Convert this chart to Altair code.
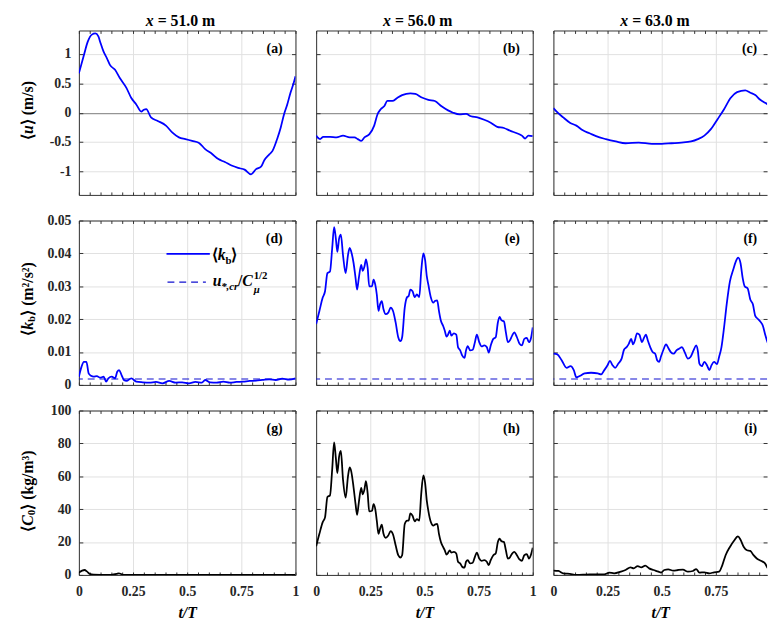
import altair as alt
import pandas as pd

# ---------------- data ----------------
t_a = [0, 0.023, 0.041, 0.06, 0.076, 0.09, 0.098, 0.114, 0.129, 0.144, 0.167, 0.189, 0.22, 0.242,
       0.265, 0.288, 0.3, 0.311, 0.333, 0.364, 0.402, 0.432, 0.462, 0.492, 0.523, 0.553, 0.583,
       0.614, 0.644, 0.674, 0.705, 0.735, 0.765, 0.795, 0.818, 0.841, 0.856, 0.879, 0.894, 0.917,
       0.932, 0.947, 0.962, 0.977, 0.992, 1.0]
u_a = [0.67, 0.98, 1.21, 1.33, 1.35, 1.30, 1.21, 1.04, 0.93, 0.81, 0.73, 0.59, 0.42, 0.25,
       0.14, 0.02, 0.05, 0.06, -0.08, -0.14, -0.22, -0.34, -0.42, -0.45, -0.48, -0.51, -0.62,
       -0.70, -0.79, -0.84, -0.90, -0.94, -0.97, -1.05, -0.96, -0.92, -0.81, -0.71, -0.65, -0.43,
       -0.25, -0.03, 0.14, 0.34, 0.51, 0.62]

t_b = [0, 0.018, 0.033, 0.064, 0.094, 0.124, 0.155, 0.177, 0.192, 0.208, 0.223, 0.245, 0.268,
       0.283, 0.298, 0.314, 0.329, 0.352, 0.374, 0.397, 0.435, 0.458, 0.488, 0.518, 0.548, 0.579,
       0.609, 0.632, 0.662, 0.692, 0.715, 0.745, 0.776, 0.806, 0.836, 0.867, 0.897, 0.927, 0.95,
       0.965, 0.98, 1.0]
u_b = [-0.39, -0.45, -0.41, -0.41, -0.42, -0.39, -0.42, -0.42, -0.45, -0.48, -0.42, -0.37, -0.22,
       -0.03, 0.06, 0.11, 0.20, 0.20, 0.25, 0.30, 0.33, 0.32, 0.26, 0.22, 0.20, 0.11,
       0.04, 0.0, -0.03, -0.02, -0.06, -0.08, -0.12, -0.17, -0.24, -0.26, -0.31, -0.35, -0.39,
       -0.44, -0.39, -0.40]

t_c = [0, 0.015, 0.045, 0.076, 0.106, 0.136, 0.167, 0.197, 0.242, 0.288, 0.333, 0.394, 0.455,
       0.5, 0.545, 0.591, 0.636, 0.667, 0.697, 0.727, 0.758, 0.788, 0.818, 0.848, 0.886, 0.909,
       0.932, 0.955, 0.977, 0.991, 1.0]
u_c = [0.08, 0.02, -0.08, -0.17, -0.22, -0.30, -0.35, -0.40, -0.45, -0.49, -0.52, -0.51, -0.53,
       -0.53, -0.52, -0.51, -0.49, -0.45, -0.39, -0.28, -0.11, 0.06, 0.25, 0.35, 0.38, 0.34,
       0.30, 0.22, 0.17, 0.14, 0.12]

t_d = [0, 0.012, 0.023, 0.035, 0.045, 0.056, 0.068, 0.083, 0.098, 0.114, 0.126, 0.136, 0.152,
       0.167, 0.177, 0.186, 0.197, 0.208, 0.22, 0.242, 0.265, 0.295, 0.326, 0.356, 0.386, 0.417,
       0.447, 0.477, 0.508, 0.538, 0.568, 0.583, 0.606, 0.636, 0.667, 0.697, 0.727, 0.758, 0.788,
       0.818, 0.848, 0.879, 0.909, 0.939, 0.97, 1.0]
k_d = [0.0025, 0.0055, 0.007, 0.007, 0.0035, 0.0028, 0.0025, 0.0027, 0.0022, 0.0025, 0.001, 0.002,
       0.0025, 0.002, 0.004, 0.0045, 0.003, 0.0015, 0.0012, 0.002, 0.001, 0.0008, 0.0007, 0.0009,
       0.0005, 0.0012, 0.0007, 0.0008, 0.0005, 0.0009, 0.0007, 0.0015, 0.0008, 0.0007, 0.001,
       0.0007, 0.0009, 0.001, 0.0012, 0.0013, 0.0015, 0.0017, 0.0015, 0.0019, 0.0016, 0.002]

t_e = [0, 0.015, 0.03, 0.041, 0.052, 0.064, 0.074, 0.083, 0.091, 0.098, 0.106, 0.114, 0.124, 0.136,
       0.147, 0.155, 0.162, 0.173, 0.182, 0.189, 0.197, 0.208, 0.215, 0.223, 0.23, 0.238, 0.245,
       0.258, 0.265, 0.273, 0.28, 0.288, 0.295, 0.303, 0.311, 0.321, 0.333, 0.344, 0.355, 0.367,
       0.379, 0.389, 0.397, 0.409, 0.42, 0.427, 0.435, 0.445, 0.455, 0.465, 0.476, 0.485, 0.495,
       0.503, 0.511, 0.518, 0.53, 0.541, 0.548, 0.559, 0.567, 0.576, 0.586, 0.594, 0.602, 0.609,
       0.617, 0.624, 0.636, 0.647, 0.655, 0.665, 0.674, 0.685, 0.692, 0.7, 0.711, 0.723, 0.733,
       0.742, 0.753, 0.764, 0.776, 0.788, 0.797, 0.806, 0.818, 0.829, 0.839, 0.847, 0.855, 0.867,
       0.876, 0.885, 0.894, 0.905, 0.915, 0.927, 0.939, 0.95, 0.961, 0.973, 0.982, 0.991, 1.0]
k_e = [0.0185, 0.0225, 0.0265, 0.0285, 0.034, 0.0345, 0.0415, 0.048, 0.0445, 0.0405, 0.0445,
       0.0457, 0.0395, 0.034, 0.0395, 0.0417, 0.0405, 0.037, 0.0325, 0.029, 0.0325, 0.0365, 0.0347,
       0.036, 0.0382, 0.0355, 0.030, 0.030, 0.032, 0.0305, 0.0275, 0.0225, 0.0245, 0.0255, 0.023,
       0.0215, 0.022, 0.0235, 0.0225, 0.019, 0.0145, 0.0133, 0.0145, 0.0235, 0.0267, 0.027, 0.029,
       0.0285, 0.0267, 0.0275, 0.0267, 0.0345, 0.040, 0.038, 0.033, 0.0305, 0.0265, 0.025, 0.0255,
       0.0257, 0.0225, 0.0195, 0.018, 0.0165, 0.0147, 0.0153, 0.0165, 0.015, 0.0157, 0.0153, 0.0115,
       0.0105, 0.009, 0.0082, 0.0105, 0.0118, 0.0105, 0.0107, 0.013, 0.0153, 0.013, 0.0117, 0.012,
       0.0115, 0.0098, 0.012, 0.014, 0.0145, 0.019, 0.0207, 0.0197, 0.0193, 0.016, 0.013, 0.0135,
       0.015, 0.016, 0.0145, 0.0125, 0.012, 0.014, 0.0143, 0.013, 0.014, 0.0175]

t_f = [0, 0.018, 0.038, 0.061, 0.079, 0.094, 0.106, 0.121, 0.144, 0.174, 0.205, 0.22, 0.235, 0.25,
       0.261, 0.273, 0.285, 0.3, 0.315, 0.326, 0.338, 0.348, 0.359, 0.368, 0.376, 0.386, 0.397,
       0.409, 0.418, 0.427, 0.436, 0.447, 0.458, 0.47, 0.479, 0.488, 0.497, 0.508, 0.52, 0.53,
       0.542, 0.555, 0.568, 0.58, 0.594, 0.606, 0.621, 0.633, 0.647, 0.659, 0.667, 0.674, 0.685,
       0.697, 0.709, 0.72, 0.73, 0.742, 0.755, 0.765, 0.776, 0.788, 0.8, 0.815, 0.83, 0.842, 0.853,
       0.864, 0.874, 0.883, 0.897, 0.909, 0.921, 0.932, 0.942, 0.955, 0.967, 0.977, 0.991, 1.0]
k_f = [0.0095, 0.0093, 0.0075, 0.0052, 0.0057, 0.0045, 0.0023, 0.0027, 0.0035, 0.0037, 0.0035,
       0.0032, 0.0045, 0.006, 0.0073, 0.006, 0.0052, 0.0065, 0.008, 0.0107, 0.0115, 0.0125, 0.014,
       0.0123, 0.0135, 0.0157, 0.0153, 0.013, 0.0143, 0.0153, 0.0135, 0.0115, 0.010, 0.0095, 0.0075,
       0.007, 0.0087, 0.0107, 0.0123, 0.0113, 0.010, 0.0095, 0.0105, 0.011, 0.0115, 0.010, 0.008,
       0.0085, 0.0105, 0.012, 0.0103, 0.0065, 0.0057, 0.007, 0.006, 0.0045, 0.006, 0.007, 0.0063,
       0.0085, 0.0115, 0.0175, 0.0245, 0.0315, 0.035, 0.0375, 0.0387, 0.037, 0.0325, 0.030, 0.0293,
       0.026, 0.0245, 0.021, 0.0202, 0.0193, 0.018, 0.0155, 0.0125, 0.011]

t_g = [0, 0.015, 0.026, 0.038, 0.05, 0.068, 0.1, 0.15, 0.174, 0.185, 0.197, 0.212, 0.3, 0.5,
       0.7, 0.9, 1.0]
c_g = [1.4, 2.6, 3.0, 2.0, 0.6, 0.2, 0.1, 0.1, 0.6, 1.0, 0.4, 0.05, 0.05, 0.05, 0.05, 0.05, 0.05]

t_h = t_e
c_h = [17.4, 25, 32, 35, 47.4, 48.4, 64, 80.6, 71, 62, 72, 75.4, 58, 47, 60, 65.4, 63, 53, 43,
       36.6, 44, 53, 49, 52, 57, 49.4, 38.6, 39, 43, 40, 33, 25, 28, 30.6, 25, 22.6, 24, 26.6,
       24.6, 18, 12, 10.6, 12, 31, 33, 33, 37.4, 36, 32.6, 34, 33, 49, 60.6, 56, 45, 39, 32, 30,
       30.6, 31, 25, 20, 17, 15, 12.4, 13.4, 15, 13.6, 14, 13, 8, 7, 5, 4.4, 8, 9, 7, 7.4, 11,
       13.6, 10, 8.6, 9, 8, 6, 9, 12, 13, 20, 22, 20.6, 20, 15, 10, 10.6, 13, 14, 12, 9.4, 8.6,
       12, 12.6, 10, 12, 16.6]

t_i = [0, 0.023, 0.045, 0.076, 0.106, 0.152, 0.197, 0.235, 0.258, 0.28, 0.311, 0.333, 0.356,
       0.371, 0.389, 0.406, 0.424, 0.442, 0.462, 0.485, 0.497, 0.512, 0.53, 0.553, 0.576, 0.598,
       0.621, 0.644, 0.659, 0.674, 0.697, 0.72, 0.742, 0.765, 0.78, 0.795, 0.815, 0.833, 0.852,
       0.864, 0.879, 0.894, 0.909, 0.924, 0.939, 0.958, 0.977, 0.991, 1.0]
c_i = [2.6, 2.4, 1.0, 0.6, 0.0, 0.2, 0.4, 0.4, 1.4, 1.0, 2.0, 3.0, 4.6, 4.0, 5.4, 4.6, 5.6, 4.0,
       3.0, 2.0, 1.4, 3.0, 3.4, 2.6, 3.0, 3.2, 2.0, 2.4, 3.6, 1.4, 1.6, 1.0, 1.6, 2.0, 6, 12, 17,
       20.6, 23.4, 21.4, 17, 15, 14.6, 12, 10, 8.6, 7, 4, 3.5]

k_cr = 0.0018
positions = ["51.0", "56.0", "63.0"]
tags = ["(a)", "(b)", "(c)", "(d)", "(e)", "(f)", "(g)", "(h)", "(i)"]
u_ticks = [-1, -0.5, 0, 0.5, 1]
k_ticks = [0, 0.01, 0.02, 0.03, 0.04, 0.05]
c_ticks = [0, 20, 40, 60, 80, 100]
t_ticks = [round(i * 0.05, 2) for i in range(21)]

# ---------------- styling ----------------
FONT = "'Liberation Serif', 'Times New Roman', serif"
INK = "#262626"
BOX = "#333333"
GRID = "#e1e1e1"
BLUE = "#0000ff"
DASH = "#1010d0"
W, H = 220, 167
W3 = 217
XMAX3 = round(W3 / W, 4)
MAJ = "indexof([0, 0.25, 0.5, 0.75, 1], datum.value) >= 0"
YLAB = "datum.value < 0 ? '-' + format(-datum.value, '~g') : format(datum.value, '~g')"


def one():
    return pd.DataFrame({"n": [0]})


def txt(s, x, y, size=16, style="normal", align="left", angle=0, baseline="middle"):
    kw = dict(text=s, font=FONT, fontSize=size, fontWeight="bold", fontStyle=style,
              align=align, baseline=baseline, color="#000000")
    if angle:
        kw["angle"] = angle
    return alt.Chart(one()).mark_text(**kw).encode(x=alt.value(x), y=alt.value(y))


def panel(t, v, ydom, yticks, col, row, color, tag):
    xmax = XMAX3 if col == 2 else 1.0
    w = W3 if col == 2 else W
    xv = [x for x in t_ticks if x <= xmax]
    df = pd.DataFrame({"t": t, "v": v})
    xs = alt.Scale(domain=[0, xmax], nice=False, zero=False)
    ys = alt.Scale(domain=ydom, nice=False, zero=False)

    ax_x = dict(orient="bottom", values=xv, offset=-3, tickSize=3, tickColor=BOX, tickWidth=1,
                domain=False, grid=True, gridColor=GRID, gridWidth=1,
                gridOpacity={"condition": {"test": MAJ, "value": 1}, "value": 0},
                labelFlush=False, labelOverlap=False)
    if row == 2:
        ax_x.update(labels=True, labelExpr=f"{MAJ} ? format(datum.value, '~g') : ''",
                    labelFont=FONT, labelFontSize=14, labelFontWeight="bold", labelColor=INK,
                    labelPadding=10, title="t/T", titleFont=FONT, titleFontSize=16,
                    titleFontStyle="italic", titleFontWeight="bold", titleColor="#000000",
                    titlePadding=6)
    else:
        ax_x.update(labels=False, title="")

    gridcol = ({"condition": {"test": "datum.value === 0", "value": "#7a7a7a"}, "value": GRID}
               if row == 0 else GRID)
    ax_y = dict(orient="left", values=yticks, offset=-4, tickSize=4, tickColor=BOX, tickWidth=1,
                domain=False, grid=True, gridColor=gridcol, gridWidth=1, title="",
                labelOverlap=False)
    if col == 0:
        ax_y.update(labels=True, labelExpr=YLAB, labelFont=FONT, labelFontSize=14,
                    labelFontWeight="bold", labelColor=INK, labelPadding=8)
    else:
        ax_y.update(labels=False)

    main = alt.Chart(df).mark_line(color=color, strokeWidth=1.8, clip=True,
                                   interpolate="monotone").encode(
        x=alt.X("t:Q", scale=xs, axis=alt.Axis(**ax_x)),
        y=alt.Y("v:Q", scale=ys, axis=alt.Axis(**ax_y)))

    ticks2 = alt.Chart(df).mark_line(opacity=0).encode(
        x=alt.X("t:Q", scale=xs, axis=alt.Axis(orient="top", values=xv, offset=-3, tickSize=3,
                                               tickColor=BOX, domain=False, grid=False,
                                               labels=False, title="")),
        y=alt.Y("v:Q", scale=ys, axis=alt.Axis(orient="right", values=yticks, offset=-4,
                                               tickSize=4, tickColor=BOX, domain=False,
                                               grid=False, labels=False, title="")))

    dom = dict(domain=True, domainColor=BOX, domainWidth=1, ticks=False, labels=False,
               grid=False, title="")
    box1 = alt.Chart(df).mark_line(opacity=0).encode(
        x=alt.X("t:Q", scale=xs, axis=alt.Axis(orient="bottom", **dom)),
        y=alt.Y("v:Q", scale=ys, axis=alt.Axis(orient="left", **dom)))
    if col == 2:
        yright = alt.Y("v:Q", scale=ys, axis=None)
    else:
        yright = alt.Y("v:Q", scale=ys, axis=alt.Axis(orient="right", **dom))
    box2 = alt.Chart(df).mark_line(opacity=0).encode(
        x=alt.X("t:Q", scale=xs, axis=alt.Axis(orient="top", **dom)), y=yright)

    layers = [box1, box2, ticks2]
    if row == 1:
        layers.append(alt.Chart(pd.DataFrame({"v": [k_cr]})).mark_rule(
            color=DASH, strokeWidth=1.2, strokeDash=[7, 5]).encode(
            y=alt.Y("v:Q", scale=ys, axis=None)))
    layers.append(main)
    layers.append(txt(tag, 207, 19, size=14, align="right"))

    if row == 0:
        layers.append(txt("x", 76, -4.5, size=16, style="italic", align="right",
                          baseline="alphabetic"))
        layers.append(txt("= " + positions[col] + " m", 80, -4.5, size=16,
                          baseline="alphabetic"))

    if col == 0:
        X0 = -52
        if row == 0:
            A = 105
            layers += [txt("⟨", X0, A, align="right", angle=270),
                       txt("u", X0, A, style="italic", angle=270),
                       txt("⟩ (m/s)", X0, A - 8.9, angle=270)]
        elif row == 1:
            A = 111
            layers += [txt("⟨", X0, A, align="right", angle=270),
                       txt("k", X0, A, style="italic", angle=270),
                       txt("b", X0 + 4, A - 8, size=11, angle=270),
                       txt("⟩ (m²/s²)", X0, A - 14.3, angle=270)]
            # legend
            layers += [alt.Chart(one()).mark_rule(color=BLUE, strokeWidth=1.8).encode(
                           x=alt.value(89), x2=alt.value(133), y=alt.value(34)),
                       alt.Chart(one()).mark_rule(color=DASH, strokeWidth=1.2,
                                                  strokeDash=[7, 5]).encode(
                           x=alt.value(90), x2=alt.value(129), y=alt.value(62.5)),
                       txt("⟨", 141, 40, align="right", baseline="alphabetic"),
                       txt("k", 141, 40, style="italic", baseline="alphabetic"),
                       txt("b", 149, 44, size=11, baseline="alphabetic"),
                       txt("⟩", 155, 40, baseline="alphabetic"),
                       txt("u", 136, 67, style="italic", baseline="alphabetic"),
                       txt("*,cr", 144.5, 71, size=11, style="italic", baseline="alphabetic"),
                       txt("/", 161.5, 67, baseline="alphabetic"),
                       txt("C", 166, 67, style="italic", baseline="alphabetic"),
                       txt("μ", 177.5, 74, size=11, style="italic", baseline="alphabetic"),
                       txt("1/2", 177.5, 59, size=11, baseline="alphabetic")]
        else:
            A = 117
            layers += [txt("⟨", X0, A, align="right", angle=270),
                       txt("C", X0, A, style="italic", angle=270),
                       txt("0", X0 + 4, A - 10.7, size=11, angle=270),
                       txt("⟩ (kg/m³)", X0, A - 16.2, angle=270)]

    return alt.layer(*layers).resolve_axis(x="independent", y="independent").properties(
        width=w, height=H)


rows = [
    [(t_a, u_a), (t_b, u_b), (t_c, u_c)],
    [(t_d, k_d), (t_e, k_e), (t_f, k_f)],
    [(t_g, c_g), (t_h, c_h), (t_i, c_i)],
]
doms = [[-1.4, 1.4], [0, 0.05], [0, 100]]
ticks = [u_ticks, k_ticks, c_ticks]
colors = [BLUE, BLUE, "#000000"]

panels = []
for r in range(3):
    for c in range(3):
        t, v = rows[r][c]
        panels.append(panel(t, v, doms[r], ticks[r], c, r, colors[r], tags[3 * r + c]))

chart = alt.concat(*panels, columns=3, spacing=alt.RowColnumber(row=26, column=21),
                   bounds="flush").properties(
    padding={"left": 11, "top": 0, "right": 0, "bottom": 0},
    background="#ffffff").configure_view(strokeWidth=0)

chart.save("out.html", embed_options={"renderer": "svg", "actions": False})
